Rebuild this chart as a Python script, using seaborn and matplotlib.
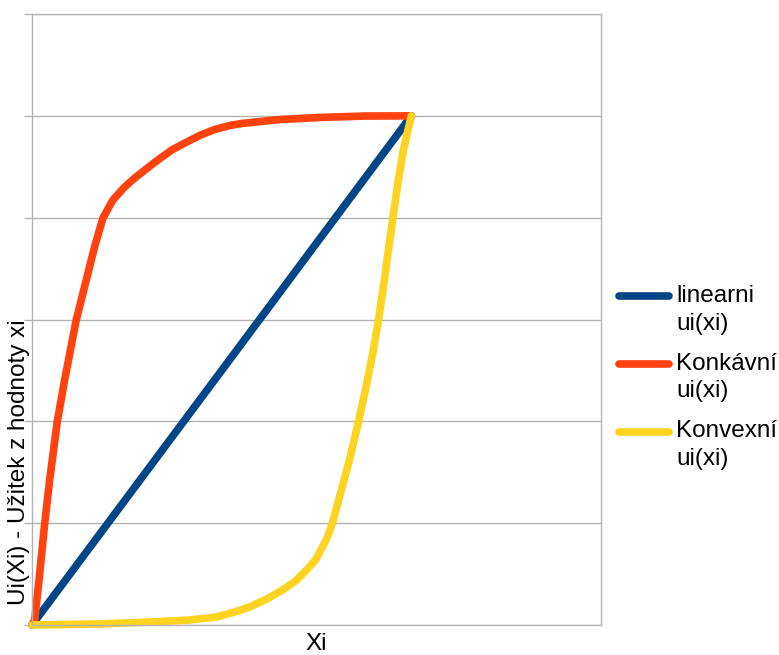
import numpy as np
import pandas as pd
import seaborn as sns
import matplotlib.pyplot as plt
from matplotlib.legend_handler import HandlerLine2D

# hodnoty (x, y)
lin_x = [0, 4]
lin_y = [0, 5]

konk_x = [0, 0.028, 0.074, 0.134, 0.186, 0.266, 0.344, 0.466, 0.572, 0.66, 0.747, 0.853,
          0.976, 1.084, 1.211, 1.326, 1.474, 1.642, 1.779, 1.926, 2.084, 2.211, 2.611,
          3.032, 3.505, 4]
konk_y = [0, 0.049, 0.442, 0.999, 1.424, 1.996, 2.406, 2.995, 3.388, 3.715, 3.994, 4.174,
          4.301, 4.39, 4.483, 4.566, 4.665, 4.748, 4.812, 4.866, 4.905, 4.925, 4.964,
          4.984, 4.998, 5]

konv_x = [0, 0.716, 1.242, 1.663, 1.947, 2.137, 2.295, 2.474, 2.642, 2.779, 2.895, 2.989,
          3.063, 3.116, 3.168, 3.263, 3.347, 3.442, 3.516, 3.6, 3.653, 3.716, 3.758, 3.805,
          3.863, 3.916, 4]
konv_y = [0, 0.01, 0.029, 0.049, 0.079, 0.128, 0.177, 0.255, 0.344, 0.432, 0.54, 0.638,
          0.766, 0.864, 1.002, 1.326, 1.62, 1.994, 2.308, 2.701, 2.995, 3.388, 3.683, 3.997,
          4.37, 4.665, 5]

serie = ["linearni\nui(xi)", "Konkávní\nui(xi)", "Konvexní\nui(xi)"]
barvy = ["#004586", "#ff420e", "#ffd320"]

df = pd.concat([
    pd.DataFrame({"x": lin_x, "y": lin_y, "serie": serie[0]}),
    pd.DataFrame({"x": konk_x, "y": konk_y, "serie": serie[1]}),
    pd.DataFrame({"x": konv_x, "y": konv_y, "serie": serie[2]}),
])

sns.set_theme(style="white")
plt.rcParams['font.family'] = ['Liberation Sans', 'DejaVu Sans']
plt.rcParams['text.color'] = 'black'
plt.rcParams['axes.labelcolor'] = 'black'

fig = plt.figure(figsize=(7.79, 6.55), dpi=100)
ax = fig.add_axes([0.0411, 0.0458, 0.7304, 0.9328])

sns.lineplot(data=df, x="x", y="y", hue="serie", hue_order=serie, palette=barvy,
             linewidth=5.5, estimator=None, sort=False, legend=False, ax=ax)
for l in ax.lines:
    l.set_solid_capstyle("round")
    l.set_solid_joinstyle("round")
    l.set_clip_on(False)

ax.set_xlim(0, 6)
ax.set_ylim(0, 6)
ax.set_xticks([])
ax.set_yticks(range(7))
ax.set_yticklabels([])
ax.tick_params(axis="y", left=True, length=6, width=1, color="#b3b3b3")
ax.yaxis.grid(True, color="#b3b3b3", linewidth=1)
for s in ax.spines.values():
    s.set_color("#b3b3b3")
    s.set_linewidth(1)

ax.set_xlabel("Xi", fontsize=17.5, labelpad=6)
ax.set_ylabel("Ui(Xi) - Užitek z hodnoty xi", fontsize=17.5)
ax.yaxis.set_label_coords(-0.004, 0.266)


# posun cary v legende k prvnimu radku textu
class HandlerNahoru(HandlerLine2D):
    def __init__(self, posun, **kw):
        super().__init__(**kw)
        self.posun = posun

    def create_artists(self, legend, orig_handle, xdescent, ydescent, width, height, fontsize, trans):
        arts = super().create_artists(legend, orig_handle, xdescent, ydescent, width, height, fontsize, trans)
        for a in arts:
            a.set_ydata(np.asarray(a.get_ydata()) + self.posun * fontsize)
        return arts


h = ax.lines[:3]
leg = fig.legend(h, serie, loc="upper left", bbox_to_anchor=(618.7 / 779, 1 - 285 / 655),
                 frameon=False, fontsize=17.5, handlelength=2.06, handletextpad=0.31,
                 labelspacing=0.74, borderpad=0, borderaxespad=0,
                 handler_map={l: HandlerNahoru(0.55) for l in h})
for t in leg.get_texts():
    t.set_linespacing(1.33)

fig.savefig("out.png", dpi=100)
